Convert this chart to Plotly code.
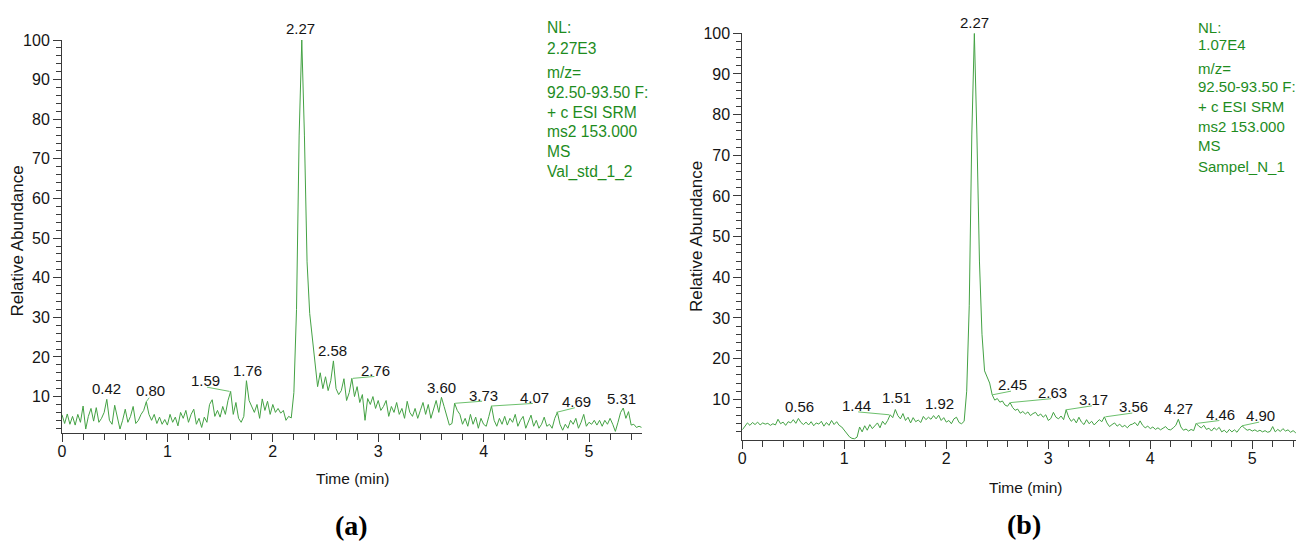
import plotly.graph_objects as go

# ---------------- data ----------------
STEP_MIN = 0.025  # scan interval (min)

# (a) Val_std_1_2  relative abundance, one value per scan
ABUND_A = [
    5.4, 3.2, 5.6, 3.0, 5.0, 2.8, 5.5, 3.5,
    7.6, 1.8, 5.0, 7.0, 3.8, 7.2, 3.5, 4.5,
    6.0, 9.3, 4.0, 3.0, 7.8, 4.5, 1.8, 4.0,
    6.8, 3.5, 5.0, 7.5, 3.2, 4.0, 5.5, 6.5,
    8.7, 5.5, 4.0, 5.5, 3.2, 4.8, 3.0, 4.2,
    2.8, 5.5, 3.5, 4.8, 2.6, 6.0, 4.5, 6.5,
    3.5, 5.5, 6.8, 3.0, 4.5, 2.2, 4.8, 3.5,
    8.0, 9.2, 5.0, 6.5, 4.8, 7.5, 5.5, 9.0,
    11.3, 5.5, 8.5, 4.5, 3.5, 5.0, 14.0, 9.0,
    7.5, 6.0, 8.0, 4.5, 9.4, 6.5, 8.8, 5.5,
    8.0, 6.0, 7.0, 5.8, 6.5, 4.0, 5.0, 4.6,
    11.0, 32.0, 76.0, 100.0, 76.0, 44.0, 31.0, 25.0,
    17.6, 12.5, 16.0, 12.0, 15.0, 11.5, 14.0, 19.0,
    12.0, 10.5, 11.5, 14.5, 9.0, 11.0, 14.6, 10.0,
    12.5, 8.5, 10.5, 4.0, 9.5, 8.0, 10.0, 7.0,
    9.0, 6.5, 7.5, 9.0, 5.0, 7.5, 6.0, 8.5,
    5.5, 7.0, 4.5, 8.8, 6.0, 5.0, 7.0, 4.5,
    6.5, 8.5, 5.5, 8.0, 4.5, 7.0, 9.0, 6.0,
    9.8, 7.5, 5.0, 2.8, 3.2, 8.3, 6.5, 5.5,
    3.0, 4.5, 2.5, 5.5, 3.0, 4.8, 2.0, 4.5,
    3.0, 2.5, 5.0, 7.6, 4.0, 2.5, 4.5, 3.0,
    5.0, 2.8, 4.5, 3.5, 5.5, 2.5, 4.0, 5.0,
    2.0, 3.5, 5.3, 2.5, 4.0, 2.0, 3.0, 4.8,
    2.5, 3.0, 2.0, 4.5, 6.0, 3.0, 1.5, 3.0,
    2.0, 4.0, 3.0, 4.5, 2.0, 3.5, 5.5, 2.5,
    3.5, 3.0, 4.0, 2.8, 4.0, 2.5, 4.0, 3.0,
    4.5, 3.0, 1.2, 3.5, 6.0, 7.1, 4.5, 6.2,
    2.8, 3.0, 2.2, 2.5, 2.2,
]

# (b) Sampel_N_1  relative abundance, one value per scan
ABUND_B = [
    2.5, 3.5, 4.2, 3.6, 4.3, 3.8, 4.4, 3.7,
    4.2, 3.9, 4.1, 3.6, 4.0, 3.7, 5.1, 4.0,
    4.4, 3.6, 4.5, 4.2, 5.0, 4.1, 5.3, 4.3,
    3.8, 4.4, 3.7, 4.5, 3.5, 4.2, 3.9, 4.6,
    3.4, 4.3, 3.6, 4.8, 3.8, 4.5, 3.6, 3.2,
    2.4, 1.5, 0.8, 0.4, 0.3, 0.7, 3.2, 2.0,
    3.5, 2.4, 3.8, 2.8, 3.5, 4.2, 3.0, 4.6,
    3.8, 4.8, 6.2, 5.5, 7.5, 6.0, 5.2, 6.5,
    4.8, 5.6, 4.2, 5.5, 4.5, 4.9, 4.3, 5.8,
    5.0, 5.6, 5.1, 6.0, 5.2, 6.1, 4.8, 5.5,
    4.4, 4.8, 4.0, 5.2, 5.6, 4.3, 4.0, 4.6,
    12.0, 33.0, 75.0, 100.0, 75.0, 44.0, 26.0, 17.0,
    15.5, 14.0, 11.1, 9.8, 10.2, 9.3, 9.6, 8.6,
    8.3, 9.2, 8.0, 7.3, 7.6, 6.6, 7.0, 6.4,
    6.9, 6.0, 6.5, 6.8, 5.9, 6.4, 5.6, 6.2,
    4.8, 5.3, 6.8, 5.6, 5.2, 5.9, 5.0, 7.4,
    5.6, 4.6, 5.2, 4.2, 5.6, 4.4, 3.8, 5.0,
    4.0, 4.6, 3.7, 4.3, 5.0, 4.5, 5.7, 4.2,
    3.3, 3.8, 4.2, 3.4, 3.9, 3.2, 3.6, 3.0,
    3.7, 3.9, 4.3, 3.5, 4.7, 3.6, 3.0, 3.4,
    2.8, 3.2, 2.6, 3.0, 2.5, 2.9, 3.3, 2.6,
    2.5, 3.0, 3.6, 5.1, 3.2, 2.4, 2.7, 2.2,
    2.6, 2.3, 4.1, 3.4, 3.0, 3.6, 2.6, 2.9,
    2.2, 3.0, 2.5, 3.1, 2.0, 2.4, 1.8, 2.6,
    2.0, 2.5, 1.9, 2.8, 3.5, 2.9, 2.4, 2.6,
    2.2, 2.5, 2.1, 2.4, 2.0, 2.3, 1.9, 2.1,
    3.3, 2.0, 2.6, 2.1, 2.8, 2.2, 2.5, 1.9,
    2.3, 1.8, 2.2, 2.0, 2.9,
]

TIME_A = [round(i * STEP_MIN, 3) for i in range(len(ABUND_A))]
TIME_B = [round(i * STEP_MIN, 3) for i in range(len(ABUND_B))]

# labelled peaks: retention time and apex abundance
PEAK_A_RT = [2.27, 0.42, 0.80, 1.59, 1.76, 2.58, 2.76, 3.60, 3.73, 4.07, 4.69, 5.31]
PEAK_A_AB = [100, 9.3, 8.7, 11.3, 14.0, 19.0, 14.6, 9.8, 8.3, 7.6, 6.0, 7.1]
PEAK_B_RT = [2.27, 0.56, 1.44, 1.51, 1.92, 2.45, 2.63, 3.17, 3.56, 4.27, 4.46, 4.90]
PEAK_B_AB = [100, 5.3, 6.2, 7.5, 6.1, 11.1, 9.2, 7.4, 5.7, 5.1, 4.1, 3.5]

INFO_A = ["NL:", "2.27E3", "m/z=", "92.50-93.50 F:", "+ c ESI SRM", "ms2 153.000", "MS", "Val_std_1_2"]
INFO_B = ["NL:", "1.07E4", "m/z=", "92.50-93.50 F:", "+ c ESI SRM", "ms2 153.000", "MS", "Sampel_N_1"]

Y_TICKS = [10, 20, 30, 40, 50, 60, 70, 80, 90, 100]
T_MAX = 5.5

# ---------------- layout / style (pixels) ----------------
PAGE_W, PAGE_H = 1304, 545
PAGE_OFF = 8  # body margin of the html page
W, H = PAGE_W - 2 * PAGE_OFF, PAGE_H - PAGE_OFF
VISIBLE_RIGHT = PAGE_W - PAGE_OFF
FONT = "Liberation Sans"
TRACE = "#44a244"
LEADER = "#6cc06c"
INFO_COL = "#1e8c1e"
AXC = "#3a3a3a"
TXT = "#151515"

# label centre offsets from apex (dx right, dy up), and whether a leader line is drawn
OFF_A = [(-1, 11.5), (0, 11), (4, 11.5), (-24, 10.5), (0, 10.5), (-1, 10.3),
         (23, 8), (0, 10.3), (28.5, 8.2), (43.3, 8.7), (20, 11), (0, 10)]
LEAD_A = [False, False, True, True, False, False, True, False, True, True, True, False]
OFF_B = [(0.5, 11), (0, 12), (-32.5, 9), (0, 12), (1, 11.3), (20.3, 10),
         (42, 10), (27.7, 10.3), (28.4, 10), (0.5, 11), (23.6, 9), (18.6, 10)]
LEAD_B = [False, False, True, False, False, True, True, True, True, False, True, True]

INFO_A_POS = (545, [27.5, 49, 72.5, 92.5, 112, 132, 151.7, 172], 15.6)
INFO_B_POS = (1196, [28, 44, 68.3, 86.7, 106.3, 126.3, 145.7, 166.5], 15)


def pxx(x):
    return (x - PAGE_OFF) / W


def pxy(y):
    return 1 - (y - PAGE_OFF) / H


# right panel: same px-per-minute as the reference, axis stops at the visible edge
B_X0, B_X1_REF = 742.3, 1303.3
B_X1 = min(B_X1_REF, VISIBLE_RIGHT)
B_TMAX = T_MAX * (B_X1 - B_X0) / (B_X1_REF - B_X0)

fig = go.Figure()
fig.add_trace(go.Scatter(x=TIME_A, y=ABUND_A, mode="lines", line=dict(color=TRACE, width=1),
                         xaxis="x", yaxis="y", hoverinfo="skip"))
fig.add_trace(go.Scatter(x=TIME_B, y=ABUND_B, mode="lines", line=dict(color=TRACE, width=1),
                         xaxis="x2", yaxis="y2", hoverinfo="skip"))

common = dict(showline=True, linecolor=AXC, linewidth=1, ticks="outside", tickcolor=AXC,
              tickwidth=1, showgrid=False, zeroline=False, automargin=False,
              tickfont=dict(family=FONT, size=16, color=TXT))
xcommon = dict(tick0=0, dtick=1, ticklen=8, ticklabelstandoff=-4,
               minor=dict(tick0=0, dtick=0.2, ticklen=6, ticks="outside", tickcolor=AXC,
                          showgrid=False), **common)
minor_y = [v for v in range(2, 100, 2) if v % 10]
ycommon = dict(tickvals=Y_TICKS, ticklen=8,
               minor=dict(tickmode="array", tickvals=minor_y, ticklen=5, ticks="outside",
                          tickcolor=AXC, showgrid=False), **common)

fig.update_layout(
    width=W, height=H, margin=dict(l=0, r=0, t=0, b=0, autoexpand=False),
    plot_bgcolor="white", paper_bgcolor="white", showlegend=False,
    xaxis=dict(domain=[pxx(62), pxx(641.7)], range=[0, T_MAX], anchor="y", **xcommon),
    yaxis=dict(domain=[pxy(433), pxy(40)], range=[0.8, 100], anchor="x", **ycommon),
    xaxis2=dict(domain=[pxx(B_X0), min(1.0, pxx(B_X1))], range=[0, B_TMAX], anchor="y2", **xcommon),
    yaxis2=dict(domain=[pxy(440), pxy(33.3)], range=[0, 100], anchor="x2", **ycommon),
)

ann = []


def add_peaks(rts, abs_, offs, leads, xr, yr):
    for rt, ab, (dx, dy), ld in zip(rts, abs_, offs, leads):
        ann.append(dict(x=rt, y=ab, xref=xr, yref=yr, text=f"{rt:.2f}", showarrow=False,
                        xanchor="center", yanchor="middle", xshift=dx, yshift=dy,
                        font=dict(family=FONT, size=15, color=TXT)))
        if ld:
            ann.append(dict(x=rt, y=ab, xref=xr, yref=yr, text="", showarrow=True,
                            ax=dx, ay=-(dy - 6), arrowhead=0, arrowwidth=1,
                            arrowcolor=LEADER, standoff=0, startstandoff=0))


add_peaks(PEAK_A_RT, PEAK_A_AB, OFF_A, LEAD_A, "x", "y")
add_peaks(PEAK_B_RT, PEAK_B_AB, OFF_B, LEAD_B, "x2", "y2")


def add_info(lines, pos):
    x0, ys, size = pos
    for t, y in zip(lines, ys):
        ann.append(dict(x=pxx(x0), y=pxy(y), xref="paper", yref="paper", text=t, showarrow=False,
                        xanchor="left", yanchor="middle",
                        font=dict(family=FONT, size=size, color=INFO_COL)))


add_info(INFO_A, INFO_A_POS)
add_info(INFO_B, INFO_B_POS)

# axis titles
for x0, y0 in [(352, 478), (1025, 487)]:
    ann.append(dict(x=pxx(x0), y=pxy(y0), xref="paper", yref="paper", text="Time (min)",
                    showarrow=False, xanchor="center", yanchor="middle",
                    font=dict(family=FONT, size=15.5, color=TXT)))
for x0, y0 in [(17.5, 241), (697, 237)]:
    ann.append(dict(x=pxx(x0), y=pxy(y0), xref="paper", yref="paper", text="Relative Abundance",
                    showarrow=False, xanchor="center", yanchor="middle", textangle=-90,
                    font=dict(family=FONT, size=17, color=TXT)))

# panel labels
for (x0, y0), t in zip([(351, 525), (1024, 524)], ["(a)", "(b)"]):
    ann.append(dict(x=pxx(x0), y=pxy(y0), xref="paper", yref="paper", text=f"<b>{t}</b>",
                    showarrow=False, xanchor="center", yanchor="middle",
                    font=dict(family="Liberation Serif", size=28, color="#000000")))

fig.update_layout(annotations=ann)
fig.write_html("out.html")
